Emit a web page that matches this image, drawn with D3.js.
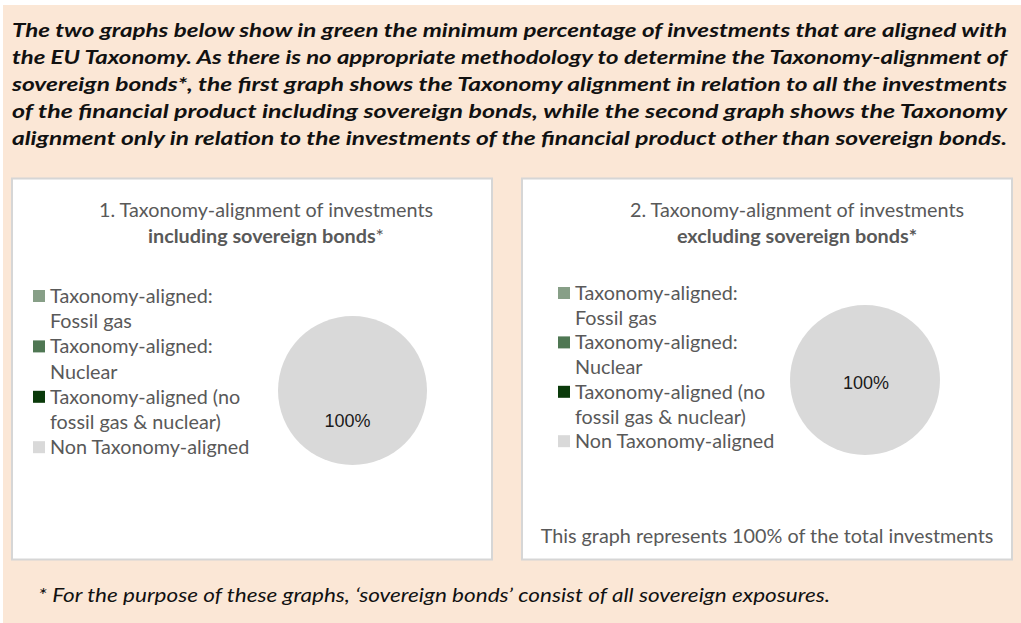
<!DOCTYPE html>
<html><head><meta charset="utf-8">
<script src="https://cdn.jsdelivr.net/npm/d3@7"></script>
<style>html,body{margin:0;padding:0;background:#fff;} svg{display:block;}</style>
</head><body>
<script>
// ---- data ----
const categories = ["Taxonomy-aligned: Fossil gas", "Taxonomy-aligned: Nuclear", "Taxonomy-aligned (no fossil gas & nuclear)", "Non Taxonomy-aligned"];
const legendLines = [["Taxonomy-aligned:", "Fossil gas"], ["Taxonomy-aligned:", "Nuclear"], ["Taxonomy-aligned (no", "fossil gas & nuclear)"], ["Non Taxonomy-aligned"]];
const colors = ["#879F87", "#4F7753", "#0A3A0A", "#D9D9D9"];
const valuesIncluding = [0, 0, 0, 100];
const valuesExcluding = [0, 0, 0, 100];
const headerLines = [
  "The two graphs below show in green the minimum percentage of investments that are aligned with",
  "the EU Taxonomy. As there is no appropriate methodology to determine the Taxonomy-alignment of",
  "sovereign bonds*, the first graph shows the Taxonomy alignment in relation to all the investments",
  "of the financial product including sovereign bonds, while the second graph shows the Taxonomy",
  "alignment only in relation to the investments of the financial product other than sovereign bonds."
];
const footnote = "* For the purpose of these graphs, \u2018sovereign bonds\u2019 consist of all sovereign exposures.";
const panel2Note = "This graph represents 100% of the total investments";

const W = 1021, H = 623;
const svg = d3.select("body").append("svg").attr("width", W).attr("height", H);
svg.append("rect").attr("width", W).attr("height", H).attr("fill", "#fff");
svg.append("rect").attr("x", 3).attr("y", 5).attr("width", W - 3).attr("height", H - 5).attr("fill", "#FBE7D6");

// header
const headerY = [37, 64, 91, 118, 145];
svg.append("g").selectAll("text").data(headerLines).join("text")
  .attr("x", 12).attr("y", (d, i) => headerY[i])
  .attr("textLength", 995).attr("lengthAdjust", "spacingAndGlyphs")
  .attr("font-family", "Lato, 'Open Sans', sans-serif").attr("font-weight", "bold").attr("font-style", "italic")
  .attr("font-size", 19.5).attr("fill", "#111").text(d => d);

// footnote
svg.append("text").attr("x", 38).attr("y", 602)
  .attr("textLength", 792).attr("lengthAdjust", "spacingAndGlyphs")
  .attr("font-family", "Lato, 'Open Sans', sans-serif").attr("font-style", "italic")
  .attr("font-size", 19.5).attr("fill", "#111").text(footnote);

const font = "Lato, 'Open Sans', sans-serif";
const gray = "#595959";
const fs = 19.8;

function panel(cfg) {
  const g = svg.append("g");
  g.append("rect").attr("x", cfg.x).attr("y", 178.5).attr("width", cfg.w).attr("height", 381)
    .attr("fill", "#fff").attr("stroke", "#D6D6D6").attr("stroke-width", 2);
  // title
  g.append("text").attr("x", cfg.tx).attr("y", 217).attr("text-anchor", "middle")
    .attr("font-family", font).attr("font-size", fs).attr("fill", gray).text(cfg.title1);
  const t2 = g.append("text").attr("x", cfg.tx).attr("y", 243).attr("text-anchor", "middle")
    .attr("font-family", font).attr("font-size", fs).attr("fill", gray);
  t2.append("tspan").attr("font-weight", "bold").text(cfg.title2);
  t2.append("tspan").attr("font-weight", cfg.starBold ? "bold" : "normal").text("*");

  // legend
  let row = 0;
  const lg = g.append("g");
  legendLines.forEach((lines, i) => {
    const y0 = cfg.ly + row * cfg.ls;
    lg.append("rect").attr("x", cfg.lx).attr("y", y0 - 6).attr("width", 12).attr("height", 12).attr("fill", colors[i]);
    lines.forEach((ln, j) => {
      lg.append("text").attr("x", cfg.lx + 17).attr("y", cfg.ly + (row + j) * cfg.ls + 7)
        .attr("font-family", font).attr("font-size", fs).attr("fill", gray).text(ln);
    });
    row += lines.length;
  });

  // pie
  const pie = d3.pie().sort(null).value(d => d);
  const arc = d3.arc().innerRadius(0).outerRadius(cfg.r);
  const labelArc = d3.arc().innerRadius(cfg.lr).outerRadius(cfg.lr);
  const pg = g.append("g").attr("transform", `translate(${cfg.cx},${cfg.cy})`);
  const arcs = pie(cfg.values);
  pg.selectAll("path").data(arcs).join("path").attr("d", arc).attr("fill", (d, i) => colors[i]);
  pg.selectAll("text").data(arcs.filter(d => d.value > 0)).join("text")
    .attr("transform", d => { const c = labelArc.centroid(d); return `translate(${c[0] + cfg.ldx},${c[1]})`; })
    .attr("text-anchor", "middle").attr("dy", "0.35em")
    .attr("font-family", "'Liberation Sans', Arial, sans-serif").attr("font-size", 18).attr("fill", "#1a1a1a")
    .text(d => d3.format(".0%")(d.value / d3.sum(cfg.values)));
  if (cfg.note) {
    g.append("text").attr("x", cfg.nx).attr("y", 543).attr("text-anchor", "middle")
      .attr("font-family", font).attr("font-size", fs).attr("fill", gray).text(cfg.note);
  }
}

panel({x: 12, w: 480, tx: 266, title1: "1. Taxonomy-alignment of investments", title2: "including sovereign bonds", starBold: false,
  lx: 33, ly: 296, ls: 25.2, cx: 352.5, cy: 390.5, r: 74.5, lr: 30, ldx: -5, values: valuesIncluding});
panel({x: 522, w: 490, tx: 797, title1: "2. Taxonomy-alignment of investments", title2: "excluding sovereign bonds", starBold: true,
  lx: 558, ly: 293, ls: 24.7, cx: 865, cy: 380, r: 75, lr: 3, ldx: 1, values: valuesExcluding, note: panel2Note, nx: 767});
</script>
</body></html>
